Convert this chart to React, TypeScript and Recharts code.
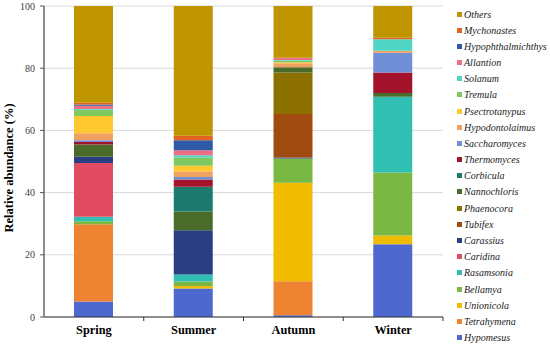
import React from 'react';
import { BarChart, Bar, XAxis, YAxis, CartesianGrid, Legend } from 'recharts';

const CATEGORIES = ['Spring', 'Summer', 'Autumn', 'Winter'];
const Y_TICKS = [0, 20, 40, 60, 80, 100];

// values per category: [Spring, Summer, Autumn, Winter]  (stack order: bottom -> top)
const Hypomesus = [5.0, 9.2, 0.6, 23.4];
const Tetrahymena = [24.8, 0, 10.9, 0];
const Unionicola = [0, 0.8, 31.7, 2.8];
const Bellamya = [1.0, 1.4, 7.8, 20.3];
const Rasamsonia = [1.4, 2.3, 0, 24.3];
const Caridina = [17.3, 0, 0, 0];
const Carassius = [2.0, 14.2, 0.3, 0];
const Tubifex = [0, 0, 14.0, 0];
const Phaenocora = [0, 0, 13.3, 0];
const Nannochloris = [4.0, 6.0, 1.7, 1.2];
const Corbicula = [0, 8.0, 0, 0];
const Thermomyces = [0.8, 2.3, 0, 6.6];
const Saccharomyces = [0.5, 0.8, 0, 6.4];
const Hypodontolaimus = [2.3, 1.8, 1.3, 0.6];
const Psectrotanypus = [5.5, 1.8, 0.3, 0];
const Tremula = [2.0, 2.7, 0.5, 0];
const Solanum = [0.3, 0.7, 0.2, 3.7];
const Allantion = [1.0, 1.6, 0.8, 0];
const Hypophthalmichthys = [0.4, 3.2, 0, 0];
const Mychonastes = [0.6, 1.5, 0, 0.5];
const Others = [31.1, 41.7, 16.6, 10.2];

const SERIES: { name: string; values: number[]; color: string }[] = [
  { name: 'Hypomesus', values: Hypomesus, color: '#4d69d0' },
  { name: 'Tetrahymena', values: Tetrahymena, color: '#ee8432' },
  { name: 'Unionicola', values: Unionicola, color: '#f0bc00' },
  { name: 'Bellamya', values: Bellamya, color: '#79b843' },
  { name: 'Rasamsonia', values: Rasamsonia, color: '#30bfb2' },
  { name: 'Caridina', values: Caridina, color: '#e24c62' },
  { name: 'Carassius', values: Carassius, color: '#293f82' },
  { name: 'Tubifex', values: Tubifex, color: '#a04b10' },
  { name: 'Phaenocora', values: Phaenocora, color: '#8c7000' },
  { name: 'Nannochloris', values: Nannochloris, color: '#4a6b2a' },
  { name: 'Corbicula', values: Corbicula, color: '#1f7a6e' },
  { name: 'Thermomyces', values: Thermomyces, color: '#a3142c' },
  { name: 'Saccharomyces', values: Saccharomyces, color: '#6f8fd6' },
  { name: 'Hypodontolaimus', values: Hypodontolaimus, color: '#f0a060' },
  { name: 'Psectrotanypus', values: Psectrotanypus, color: '#ffc82e' },
  { name: 'Tremula', values: Tremula, color: '#80c860' },
  { name: 'Solanum', values: Solanum, color: '#4fd6c5' },
  { name: 'Allantion', values: Allantion, color: '#ec7085' },
  { name: 'Hypophthalmichthys', values: Hypophthalmichthys, color: '#2f5aa8' },
  { name: 'Mychonastes', values: Mychonastes, color: '#df6420' },
  { name: 'Others', values: Others, color: '#bf9500' },
];

const data = CATEGORIES.map((cat, i) => {
  const row: Record<string, number | string> = { season: cat };
  SERIES.forEach((s) => {
    row[s.name] = s.values[i];
  });
  return row;
});

const W = 550;
const H = 361;
const MARGIN = { top: 6, right: 107, bottom: 22, left: 0 };
const YAXIS_W = 44;
const PLOT_W = W - MARGIN.left - MARGIN.right - YAXIS_W;
const HALF_BAND = PLOT_W / CATEGORIES.length / 2;
const FONT = 'Liberation Serif, Times New Roman, serif';

const XTick = (props: any) => {
  const { x, y, payload } = props;
  return (
    <g>
      <line x1={x + HALF_BAND} x2={x + HALF_BAND} y1={y} y2={y + 4} stroke="#333" strokeWidth={1} />
      <text
        x={x}
        y={y + 17}
        textAnchor="middle"
        fontFamily={FONT}
        fontWeight="bold"
        fontSize={12.3}
        fill="#000"
      >
        {payload.value}
      </text>
    </g>
  );
};

const YLabel = () => {
  const cx = 13;
  const cy = 168;
  return (
    <text
      x={cx}
      y={cy}
      transform={`rotate(-90 ${cx} ${cy})`}
      textAnchor="middle"
      fontFamily={FONT}
      fontWeight="bold"
      fontSize={12.5}
      fill="#000"
    >
      Relative abundance (%)
    </text>
  );
};

const LegendContent = () => {
  const items = [...SERIES].reverse();
  return (
    <div style={{ fontFamily: FONT, fontStyle: 'italic', fontSize: 10, color: '#222' }}>
      {items.map((s) => (
        <div
          key={s.name}
          style={{ height: 16.18, display: 'flex', alignItems: 'center', whiteSpace: 'nowrap' }}
        >
          <span
            style={{
              display: 'inline-block',
              width: 5,
              height: 5,
              background: s.color,
              marginRight: 2,
              marginLeft: 5,
            }}
          />
          <span>{s.name}</span>
        </div>
      ))}
    </div>
  );
};

export default function App() {
  return (
    <div style={{ position: 'absolute', left: 0, top: 0, width: W, height: H, background: '#fff' }}>
      <BarChart width={W} height={H} data={data} margin={MARGIN}>
        <CartesianGrid vertical={false} stroke="#d9d9d9" strokeWidth={1} />
        <XAxis
          dataKey="season"
          tickLine={false}
          tickSize={0}
          tickMargin={0}
          axisLine={{ stroke: '#333', strokeWidth: 1.2 }}
          tick={<XTick />}
          interval={0}
          height={MARGIN.bottom}
        />
        <YAxis
          width={YAXIS_W}
          domain={[0, 100]}
          ticks={Y_TICKS}
          interval={0}
          tickSize={4}
          tickMargin={5}
          tickLine={{ stroke: '#595959' }}
          axisLine={{ stroke: '#666', strokeWidth: 1.5 }}
          tick={{ fontFamily: FONT, fontSize: 10, fill: '#404040' }}
          label={<YLabel />}
        />
        <Legend
          layout="vertical"
          align="center"
          verticalAlign="middle"
          content={<LegendContent />}
          wrapperStyle={{ left: 452, top: 6, width: 98, height: 340 }}
        />
        {SERIES.map((s) => (
          <Bar
            key={s.name}
            dataKey={s.name}
            stackId="a"
            fill={s.color}
            barSize={39}
            isAnimationActive={false}
          />
        ))}
      </BarChart>
    </div>
  );
}
